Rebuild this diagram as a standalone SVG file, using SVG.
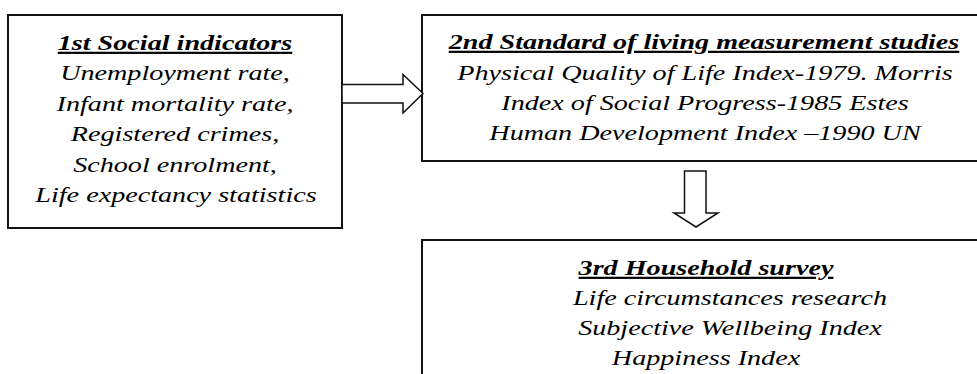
<svg xmlns="http://www.w3.org/2000/svg" width="977" height="374" viewBox="0 0 977 374">
<style>
.box{fill:#fff;stroke:#111;stroke-width:2}
.arrow{fill:#fff;stroke:#111;stroke-width:1.5;stroke-linejoin:miter}
text{font-family:"Liberation Serif","Times New Roman",serif;font-size:22px;font-style:italic;fill:#000;text-anchor:middle}
.t{font-weight:bold;text-decoration:underline;text-decoration-thickness:2px}
</style>
<rect width="977" height="374" fill="#fff"/>
<g id="node1">
<rect class="box" x="8" y="15" width="334" height="213"/>
<text class="t" transform="translate(175,50) scale(1.28,1)">1st Social indicators</text>
<text transform="translate(175,80) scale(1.28,1)">Unemployment rate,</text>
<text transform="translate(175,111) scale(1.28,1)">Infant mortality rate,</text>
<text transform="translate(175,141) scale(1.28,1)">Registered crimes,</text>
<text transform="translate(175,172) scale(1.28,1)">School enrolment,</text>
<text transform="translate(176,202) scale(1.28,1)">Life expectancy statistics</text>
</g>
<g id="node2">
<rect class="box" x="422" y="15" width="600" height="146"/>
<text class="t" transform="translate(704,49) scale(1.28,1)">2nd Standard of living measurement studies</text>
<text transform="translate(705,80) scale(1.28,1)">Physical Quality of Life Index-1979. Morris</text>
<text transform="translate(705,110) scale(1.28,1)">Index of Social Progress-1985 Estes</text>
<text transform="translate(705,140) scale(1.28,1)">Human Development Index –1990 UN</text>
</g>
<g id="node3">
<rect class="box" x="422" y="240" width="600" height="200"/>
<text class="t" transform="translate(706,275) scale(1.28,1)">3rd Household survey</text>
<text transform="translate(730,305) scale(1.28,1)">Life circumstances research</text>
<text transform="translate(730,335) scale(1.28,1)">Subjective Wellbeing Index</text>
<text transform="translate(706,365) scale(1.28,1)">Happiness Index</text>
</g>
<g id="connectors">
<polygon class="arrow" points="342,84.5 403,84.5 403,74.5 423,93.5 403,113 403,103 342,103"/>
<polygon class="arrow" points="684.5,171 706,171 706,213 718,213 696,227 674,213 684.5,213"/>
</g>
</svg>
